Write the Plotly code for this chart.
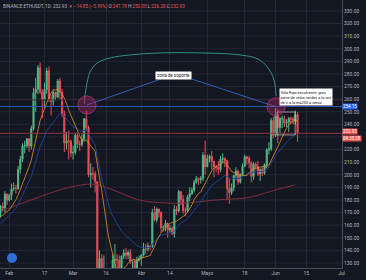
import pandas as pd
import plotly.graph_objects as go

# ---------------- data ----------------
# closes before the first visible candle (used for the moving averages / first open)
pre_closes = [138.5, 132.3, 129.2, 130.8, 127.2, 134.3, 134.2, 135.4, 144.2, 142.8,
              141.3, 138.3, 143.9, 142.3, 146.2, 143.9, 165.9, 166.4, 164.2, 171.2,
              173.8, 166.2, 167.0, 169.2, 168.0, 162.8, 162.5, 160.6, 167.9, 170.1]

close_jan = [175.0, 173.6, 184.7, 179.9]
close_feb = [183.6, 188.9, 189.3, 189.1, 204.2, 212.3, 222.9, 223.1, 228.6, 222.7,
             236.6, 265.2, 268.0, 285.0, 265.6, 259.9, 267.6, 282.5, 259.4, 258.3,
             265.4, 261.6, 274.5, 265.5, 248.2, 225.1, 227.0, 226.5, 217.2]
close_mar = [217.8, 231.3, 224.1, 224.1, 228.3, 244.4, 237.5, 199.9, 200.9, 200.8,
             194.5, 110.6, 133.6, 124.3, 125.2, 110.6, 114.3, 117.6, 132.3, 132.8,
             132.0, 122.4, 135.4, 138.0, 136.2, 138.5, 131.4, 131.5, 125.2, 132.2, 133.6]
close_apr = [136.2, 141.2, 141.1, 143.5, 143.1, 170.0, 164.1, 172.8, 170.1, 157.9,
             158.3, 161.6, 156.3, 157.4, 153.2, 172.5, 171.2, 186.6, 180.4, 171.5,
             171.3, 182.4, 185.0, 187.9, 194.0, 197.1, 196.2, 197.1, 215.5, 206.4]
close_may = [212.9, 214.8, 210.6, 206.4, 205.7, 204.2, 212.5, 212.7, 211.1, 188.8,
             185.9, 189.9, 199.4, 202.9, 194.2, 200.1, 207.0, 214.2, 213.0, 209.3,
             198.7, 208.4, 206.6, 200.6, 204.3, 201.3, 208.2, 219.7, 220.5, 243.1, 231.2]
close_jun = [247.5, 237.4, 244.4, 244.5, 240.9, 241.8, 244.7, 244.3, 243.2, 247.78, 232.93]

high_jan = [176, 178, 187, 185]
high_feb = [185, 193, 194, 192, 207, 215, 225, 227, 229, 229, 239, 269, 277, 287, 289,
            268, 273, 285, 286, 263, 267, 266, 276, 277, 268, 251, 234, 235, 228]
high_mar = [223, 233, 233, 227, 232, 245, 251, 239, 209, 206, 203, 195, 140, 137, 136,
            126, 119, 119, 137, 145, 137, 136, 136, 141, 142, 140, 141, 132, 133, 135, 136]
high_apr = [137, 146, 145, 146, 144, 173, 175, 174, 173, 171, 160, 164, 162, 160, 159,
            176, 175, 188, 187, 184, 174, 184, 190, 190, 196, 199, 198, 199, 218, 227]
high_may = [216, 216, 219, 211, 208, 211, 215, 217, 214, 212, 197, 193, 200, 206, 204,
            201, 209, 216, 215, 215, 211, 210, 210, 211, 205, 206, 209, 221, 226, 245, 246]
high_jun = [253, 252, 246, 247, 247, 244, 246, 246, 246, 251, 250.0]

low_jan = [166, 171, 170, 176]
low_feb = [179, 180, 187, 185, 188, 201, 210, 217, 221, 218, 220, 235, 250, 264, 264,
           245, 253, 264, 258, 247, 255, 259, 261, 260, 246, 218, 220, 212, 214]
low_mar = [212, 216, 221, 219, 222, 227, 235, 198, 190, 196, 186, 100, 90, 123, 122,
           107, 108, 109, 117, 124, 122, 121, 118, 133, 133, 133, 129, 123, 124, 124, 131]
low_apr = [128, 135, 137, 139, 140, 142, 163, 162, 166, 154, 155, 155, 150, 154, 152,
           150, 168, 170, 176, 169, 167, 170, 179, 184, 186, 193, 192, 193, 195, 200]
low_may = [206, 210, 204, 198, 202, 200, 202, 209, 206, 180, 177, 184, 187, 196, 192,
           193, 199, 206, 208, 205, 194, 196, 204, 199, 195, 199, 200, 205, 216, 219, 229]
low_jun = [230, 225, 233, 237, 238, 238, 234, 240, 240, 240, 226.2]

# long moving average
ma_long_dates = ["2020-01-29", "2020-02-11", "2020-02-27", "2020-03-10", "2020-03-19",
                 "2020-03-31", "2020-04-12", "2020-04-21", "2020-05-05", "2020-05-20",
                 "2020-06-01", "2020-06-10"]
ma_long_vals = [171.6, 180.0, 189.5, 192.5, 188.0, 180.0, 177.6, 177.6, 180.0, 182.0, 188.0, 192.0]

# hand-drawn arc ("zona de soporte")
arc_dates = ["2020-03-06 00:00", "2020-03-06 22:00", "2020-03-08 17:00", "2020-03-11 22:00",
             "2020-03-17 19:00", "2020-03-26 22:00", "2020-04-09 12:00", "2020-04-27 17:00",
             "2020-05-15 19:00", "2020-05-24 00:00", "2020-05-28 14:00", "2020-05-31 07:00",
             "2020-06-01 05:00"]
arc_vals = [256.2, 268.9, 281.6, 288.7, 292.7, 295.1, 296.7, 296.7, 295.1, 291.9, 284.8, 275.2, 262.5]

tick_dates = ["2020-02-01", "2020-02-17", "2020-03-01", "2020-03-16", "2020-04-01", "2020-04-14",
              "2020-05-01", "2020-05-18", "2020-06-01", "2020-06-15", "2020-07-01"]
tick_labels = ["Feb", "17", "Mar", "16", "Abr", "14", "Mayo", "18", "Jun", "15", "Jul"]

# price-axis labels (230 sits under the last-price tag and is not shown)
price_ticks = [130, 140, 150, 160, 170, 180, 190, 200, 210, 220, 240, 250, 260,
               270, 280, 290, 300, 310, 320, 330]
price_grid = [130, 140, 150, 160, 170, 180, 190, 200, 210, 220, 230, 240, 250, 260,
              270, 280, 290, 300, 310, 320, 330]

support_level = 254.15
upper_line_level = 259.4
last_price = 232.93

# ---------------- derived ----------------
closes = close_jan + close_feb + close_mar + close_apr + close_may + close_jun
highs = high_jan + high_feb + high_mar + high_apr + high_may + high_jun
lows = low_jan + low_feb + low_mar + low_apr + low_may + low_jun
opens = [pre_closes[-1]] + closes[:-1]
dates = pd.date_range("2020-01-28", periods=len(closes), freq="D")

all_close = pd.Series(pre_closes + closes)
n_pre = len(pre_closes)
ma_fast = all_close.rolling(10).mean().iloc[n_pre:].values
ma_mid = all_close.ewm(span=20, adjust=False).mean().iloc[n_pre:].values

BG = "#131722"
GRID = "#232733"
TXT = "#b2b5be"
UP = "#53b987"
DN = "#eb4d5c"
FONT = "Roboto"

fig = go.Figure()

fig.add_trace(go.Scatter(x=pd.to_datetime(ma_long_dates, format="ISO8601"), y=ma_long_vals, mode="lines",
                         line=dict(color="#7e2f3b", width=1, shape="spline"), hoverinfo="skip"))
fig.add_trace(go.Scatter(x=dates, y=ma_mid, mode="lines",
                         line=dict(color="#1f3f8f", width=1), hoverinfo="skip"))
fig.add_trace(go.Scatter(x=dates, y=ma_fast, mode="lines",
                         line=dict(color="#e0902a", width=0.8), hoverinfo="skip"))

fig.add_trace(go.Candlestick(
    x=dates, open=opens, high=highs, low=lows, close=closes,
    increasing=dict(line=dict(color=UP, width=1), fillcolor=UP),
    decreasing=dict(line=dict(color=DN, width=1), fillcolor=DN),
    whiskerwidth=0, hoverinfo="skip"))

fig.add_trace(go.Scatter(x=pd.to_datetime(arc_dates, format="ISO8601"), y=arc_vals, mode="lines",
                         line=dict(color="#2f8f8a", width=1, shape="spline"), hoverinfo="skip"))

shapes = []
# horizontal grid lines (all levels, including the hidden 230 label)
for g in price_grid:
    shapes.append(dict(type="line", xref="paper", x0=0, x1=1, yref="y", y0=g, y1=g, layer="below",
                       line=dict(color=GRID, width=1)))
# horizontal lines
shapes.append(dict(type="line", xref="paper", x0=0, x1=1, yref="y", y0=upper_line_level, y1=upper_line_level,
                   line=dict(color="#3d2230", width=1)))
shapes.append(dict(type="line", xref="paper", x0=0, x1=1, yref="y", y0=support_level, y1=support_level,
                   line=dict(color="#2b5aa8", width=1)))
shapes.append(dict(type="line", xref="paper", x0=0, x1=1, yref="y", y0=last_price, y1=last_price,
                   line=dict(color="#8e3343", width=1)))
# callout lines
shapes.append(dict(type="line", xref="x", yref="y", x0="2020-03-07 07:00", y0=255.4,
                   x1="2020-04-10", y1=276, line=dict(color="#3b6fd0", width=0.8)))
shapes.append(dict(type="line", xref="x", yref="y", x0="2020-04-24", y0=276,
                   x1="2020-06-01 05:00", y1=254, line=dict(color="#3b6fd0", width=0.8)))
# rectangle on last candles
shapes.append(dict(type="rect", xref="x", yref="y", x0="2020-06-01 17:00", x1="2020-06-09 22:00",
                   y0=231.6, y1=249.8, line=dict(color="rgba(215,220,220,0.8)", width=0.8)))
# circles
for cx, cy in [("2020-03-07 07:00", 255.4), ("2020-06-01 05:00", 254.0)]:
    shapes.append(dict(type="circle", xref="x", yref="y", xsizemode="pixel", ysizemode="pixel",
                       xanchor=cx, yanchor=cy, x0=-9, x1=9, y0=-9, y1=9,
                       fillcolor="rgba(190,40,110,0.35)", line=dict(color="rgba(200,50,120,0.7)", width=1)))
# logo
shapes.append(dict(type="circle", xref="paper", yref="paper", xsizemode="pixel", ysizemode="pixel",
                   xanchor=12 / 342, yanchor=10 / 268, x0=-5, x1=5, y0=-5, y1=5,
                   fillcolor="#2f6fd6", line=dict(width=0)))

annotations = []
red = "#ef5350"
header = ("BINANCE:ETHUSDT, 1D: 232.93 <span style='color:%s'>▼ −14.85 (−5.99%%)</span> "
          "O:<span style='color:%s'>247.78</span> H:<span style='color:%s'>250.00</span> "
          "L:<span style='color:%s'>226.20</span> C:<span style='color:%s'>232.93</span>") % ((red,) * 5)
annotations.append(dict(xref="paper", yref="paper", x=0.004, y=0.995, xanchor="left", yanchor="top",
                        text=header, showarrow=False, font=dict(family=FONT, size=4.6, color=TXT)))
annotations.append(dict(xref="x", yref="y", x="2020-04-15 10:00", y=278.4, text="zona de soporte",
                        showarrow=False, bgcolor="#ffffff", font=dict(family=FONT, size=4.5, color="#131722"),
                        borderpad=1))
annotations.append(dict(xref="x", yref="y", x="2020-06-02 12:00", y=261.7, xanchor="left",
                        text="Vela Roja envolvente: gran<br>parte de velas verdes a la vez<br>de ir a la ma200 a cerca",
                        align="left", showarrow=False, bgcolor="#ffffff",
                        font=dict(family=FONT, size=3.9, color="#131722"), borderpad=0.5))
# axis price tags
for val, txt, col, shift in [(support_level, "254.15", "#2962ff", 0), (last_price, "232.93", red, 1.5),
                             (last_price, "04:35:28", red, -5.5)]:
    annotations.append(dict(xref="paper", yref="y", x=1.0, y=val, xanchor="left", yshift=shift,
                            text=txt, showarrow=False, bgcolor=col, borderpad=0,
                            font=dict(family=FONT, size=4.5, color="#ffffff")))

fig.update_layout(
    width=366, height=280, margin=dict(l=0, r=24, t=0, b=12),
    paper_bgcolor=BG, plot_bgcolor=BG, showlegend=False,
    shapes=shapes, annotations=annotations,
    xaxis=dict(type="date", range=["2020-01-27 18:30", "2020-07-01 04:50"],
               rangeslider=dict(visible=False), tickvals=pd.to_datetime(tick_dates), ticktext=tick_labels,
               showgrid=True, gridcolor=GRID, gridwidth=1, showline=True, linecolor="#4a4e59", linewidth=1,
               ticks="", tickfont=dict(family=FONT, size=5, color=TXT), zeroline=False, fixedrange=True),
    yaxis=dict(side="right", range=[126.0, 338.7], tickvals=price_ticks, tickformat=".2f",
               showgrid=False, showline=True, linecolor="#4a4e59", linewidth=1,
               ticks="", tickfont=dict(family=FONT, size=5, color=TXT), zeroline=False, fixedrange=True),
)

fig.write_html("out.html")
